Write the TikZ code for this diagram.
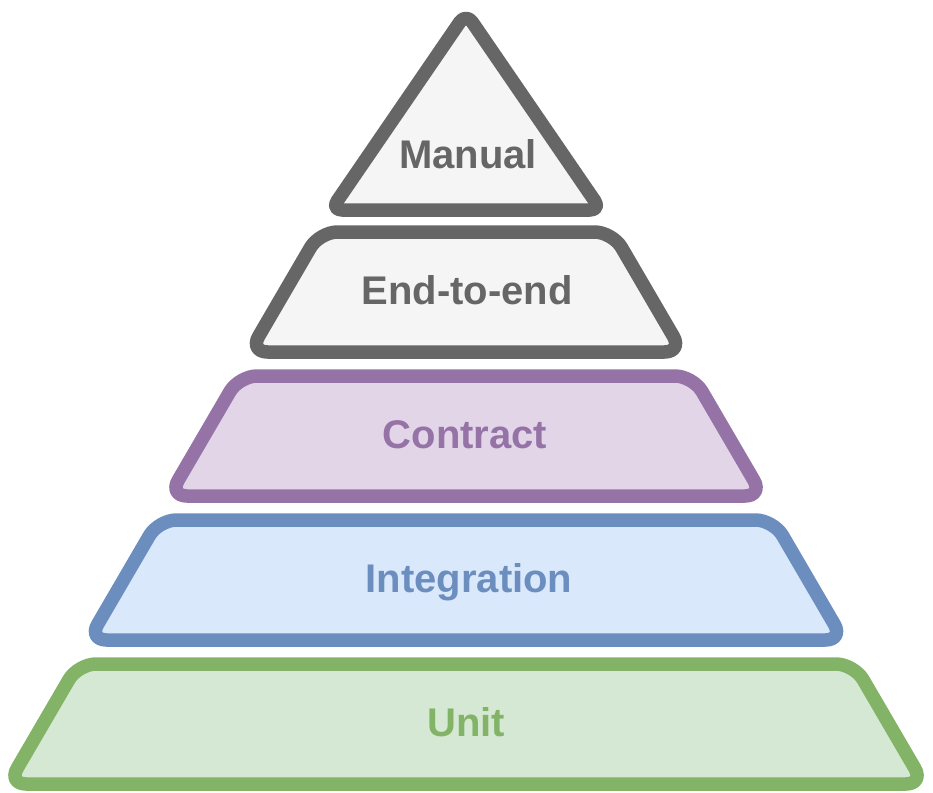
\documentclass[tikz,border=0pt]{standalone}
\usepackage{fontspec}
\setmainfont{Liberation Sans}
\usetikzlibrary{positioning}

\definecolor{grayline}{HTML}{666666}
\definecolor{grayfill}{HTML}{F5F5F5}
\definecolor{purpleline}{HTML}{9673A6}
\definecolor{purplefill}{HTML}{E1D5E7}
\definecolor{blueline}{HTML}{6C8EBF}
\definecolor{bluefill}{HTML}{DAE8FC}
\definecolor{greenline}{HTML}{82B366}
\definecolor{greenfill}{HTML}{D5E8D4}

\begin{document}
\begin{tikzpicture}
    [%%%%%%%%%%%%%%%%%%%%%%%%%%%%%%
    x=1pt, y=-1pt,
    tier/.style={line width=13.5pt, rounded corners=18pt, line join=round},
    tiertext/.style={font=\fontsize{40}{48}\selectfont\bfseries, anchor=base, inner sep=0pt},
    ]%%%%%%%%%%%%%%%%%%%%%%%%%%%%%%

    \useasboundingbox (0,0) rectangle (933,792);

    % unit
    \draw[tier,draw=greenline,fill=greenfill] (8,784) -- (78,664) -- (854,664) -- (924,784) -- cycle;
    \node[tiertext,text=greenline] at (466,736.5) (unit_text) {Unit};

    % integration
    \draw[tier,draw=blueline,fill=bluefill] (88.5,640) -- (158.5,520) -- (773.5,520) -- (843.5,640) -- cycle;
    \node[tiertext,text=blueline] at (469,592.5) (integration_text) {Integration};

    % contract
    \draw[tier,draw=purpleline,fill=purplefill] (169,496) -- (239,376) -- (693,376) -- (763,496) -- cycle;
    \node[tiertext,text=purpleline] at (465,448.5) (contract_text) {Contract};

    % end-to-end
    \draw[tier,draw=grayline,fill=grayfill] (249.5,352) -- (319.5,232) -- (612.5,232) -- (682.5,352) -- cycle;
    \node[tiertext,text=grayline] at (467,304.5) (e2e_text) {End-to-end};

    % manual
    \draw[tier,rounded corners=11pt,draw=grayline,fill=grayfill] (331,210) -- (466,13) -- (601,210) -- cycle;
    \node[tiertext,text=grayline] at (468,168) (manual_text) {Manual};
\end{tikzpicture}
\end{document}
